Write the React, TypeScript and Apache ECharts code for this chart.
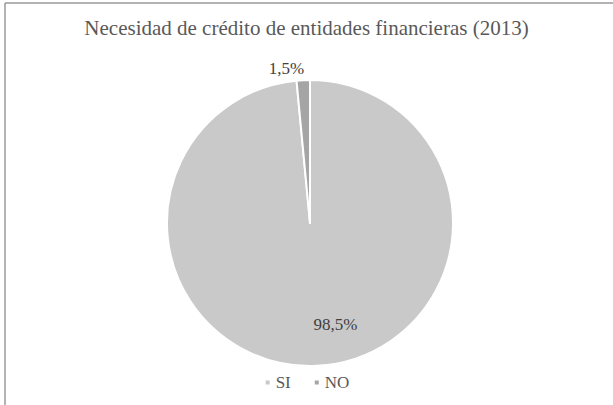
import React, { useEffect, useRef } from "react";
import * as echarts from "echarts";

const titleText = "Necesidad de crédito de entidades financieras (2013)";
const categories = ["SI", "NO"];
const values = [98.5, 1.5];
const colors = ["#c9c9c9", "#a5a5a5"];

export default function App() {
  const ref = useRef<HTMLDivElement>(null);
  useEffect(() => {
    if (!ref.current) return;
    const chart = echarts.init(ref.current, null, { renderer: "svg" });
    const font = "Liberation Serif";
    chart.setOption({
      animation: false,
      backgroundColor: "#ffffff",
      title: {
        text: titleText,
        left: "center",
        top: 12,
        textStyle: { fontFamily: font, fontSize: 21, fontWeight: "normal", color: "#595959" },
      },
      legend: {
        bottom: 9,
        left: "center",
        icon: "rect",
        itemWidth: 6,
        itemHeight: 6,
        itemGap: 22,
        data: categories,
        textStyle: { fontFamily: font, fontSize: 17, color: "#595959" },
      },
      graphic: [
        { type: "line", shape: { x1: 5, y1: 3, x2: 613, y2: 3 }, style: { stroke: "#9a9a9a", lineWidth: 1.5 } },
        { type: "line", shape: { x1: 5, y1: 3, x2: 5, y2: 405 }, style: { stroke: "#9a9a9a", lineWidth: 1.5 } },
      ],
      series: [
        {
          type: "pie",
          center: [310, 223],
          radius: [0, 143],
          startAngle: 90,
          clockwise: true,
          itemStyle: { borderColor: "#ffffff", borderWidth: 2 },
          labelLine: { show: false },
          label: {
            fontFamily: font,
            fontSize: 17,
            color: "#404040",
            formatter: (p: any) => p.value.toFixed(1).replace(".", ",") + "%",
          },
          labelLayout: (p: any) => {
            if (p.dataIndex === 0) return { dx: 22, dy: 27 };
            return { dx: 6, dy: -8 };
          },
          data: categories.map((c, i) => ({
            name: c,
            value: values[i],
            itemStyle: { color: colors[i] },
            label: { position: i === 0 ? "inside" : "outside" },
            labelLine: { show: false, length: 4, length2: 0 },
          })),
        },
      ],
    });
    return () => chart.dispose();
  }, []);
  return <div ref={ref} style={{ position: "fixed", left: 0, top: 0, width: 613, height: 405 }} />;
}
